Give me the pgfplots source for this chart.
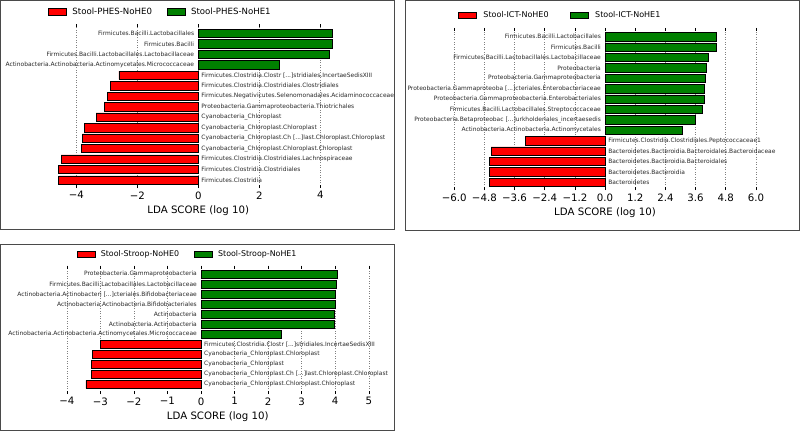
\documentclass[border=0pt]{standalone}
\usepackage{fontspec}
\setmainfont{DejaVu Sans}
\usepackage{pgfplots}
\pgfplotsset{compat=1.18}
\usepackage{pgfplotstable}

\definecolor{barred}{HTML}{FF0000}
\definecolor{bargreen}{HTML}{008000}
\definecolor{framegray}{HTML}{4A4A4A}

% ---------- PHES ----------
\pgfplotstableread[col sep=comma]{
idx,lda,label
14,4.39,Firmicutes.Bacilli.Lactobacillales
13,4.39,Firmicutes.Bacilli
12,4.29,Firmicutes.Bacilli.Lactobacillales.Lactobacillaceae
11,2.64,Actinobacteria.Actinobacteria.Actinomycetales.Micrococcaceae
}\phesG
\pgfplotstableread[col sep=comma]{
idx,lda,label
10,-2.60,Firmicutes.Clostridia.Clostr [...]stridiales.IncertaeSedisXIII
9,-2.89,Firmicutes.Clostridia.Clostridiales.Clostridiales
8,-2.97,Firmicutes.Negativicutes.Selenomonadales.Acidaminococcaceae
7,-3.09,Proteobacteria.Gammaproteobacteria.Thiotrichales
6,-3.35,Cyanobacteria\_Chloroplast
5,-3.74,Cyanobacteria\_Chloroplast.Chloroplast
4,-3.80,Cyanobacteria\_Chloroplast.Ch [...]last.Chloroplast.Chloroplast
3,-3.84,Cyanobacteria\_Chloroplast.Chloroplast.Chloroplast
2,-4.50,Firmicutes.Clostridia.Clostridiales.Lachnospiraceae
1,-4.58,Firmicutes.Clostridia.Clostridiales
0,-4.58,Firmicutes.Clostridia
}\phesR

% ---------- ICT ----------
\pgfplotstableread[col sep=comma]{
idx,lda,label
14,4.43,Firmicutes.Bacilli.Lactobacillales
13,4.41,Firmicutes.Bacilli
12,4.12,Firmicutes.Bacilli.Lactobacillales.Lactobacillaceae
11,4.04,Proteobacteria
10,3.99,Proteobacteria.Gammaproteobacteria
9,3.96,Proteobacteria.Gammaproteoba [...]cteriales.Enterobacteriaceae
8,3.94,Proteobacteria.Gammaproteobacteria.Enterobacteriales
7,3.85,Firmicutes.Bacilli.Lactobacillales.Streptococcaceae
6,3.57,Proteobacteria.Betaproteobac [...]urkholderiales\_incertaesedis
5,3.09,Actinobacteria.Actinobacteria.Actinomycetales
}\ictG
\pgfplotstableread[col sep=comma]{
idx,lda,label
4,-3.17,Firmicutes.Clostridia.Clostridiales.Peptococcaceae1
3,-4.53,Bacteroidetes.Bacteroidia.Bacteroidales.Bacteroidaceae
2,-4.59,Bacteroidetes.Bacteroidia.Bacteroidales
1,-4.59,Bacteroidetes.Bacteroidia
0,-4.59,Bacteroidetes
}\ictR

% ---------- Stroop ----------
\pgfplotstableread[col sep=comma]{
idx,lda,label
11,4.05,Proteobacteria.Gammaproteobacteria
10,4.04,Firmicutes.Bacilli.Lactobacillales.Lactobacillaceae
9,4.01,Actinobacteria.Actinobacteri [...]cteriales.Bifidobacteriaceae
8,4.00,Actinobacteria.Actinobacteria.Bifidobacteriales
7,3.97,Actinobacteria
6,3.97,Actinobacteria.Actinobacteria
5,2.38,Actinobacteria.Actinobacteria.Actinomycetales.Micrococcaceae
}\stroopG
\pgfplotstableread[col sep=comma]{
idx,lda,label
4,-3.01,Firmicutes.Clostridia.Clostr [...]stridiales.IncertaeSedisXIII
3,-3.23,Cyanobacteria\_Chloroplast.Chloroplast
2,-3.26,Cyanobacteria\_Chloroplast
1,-3.27,Cyanobacteria\_Chloroplast.Ch [...]last.Chloroplast.Chloroplast
0,-3.43,Cyanobacteria\_Chloroplast.Chloroplast.Chloroplast
}\stroopR

\pgfplotsset{
  lefse/.style={
    scale only axis,
    axis line style={draw=none},
    every outer x axis line/.style={draw=none},
    every outer y axis line/.style={draw=none},
    ytick=\empty,
    xtick pos=both,
    tick align=inside,
    major tick length=3pt,
    tick style={black, line width=0.5pt},
    xmajorgrids,
    major grid style={gray, line width=0.5pt, dash pattern=on 0.7pt off 1.8pt},
    tick label style={font=\fontsize{10.2}{12}\selectfont},
    xlabel={LDA SCORE (log 10)},
    xlabel style={font=\fontsize{10.2}{12}\selectfont},
    legend columns=2,
    legend cell align=left,
    legend image code/.code={\draw[##1,draw=black,line width=0.6pt] (0pt,-3.2pt) rectangle (18pt,3.2pt);},
    legend style={draw=none, fill=none, anchor=center,
      /tikz/every odd column/.append style={column sep=3.5pt},
      /tikz/every even column/.append style={column sep=13pt}},
  },
  gbar/.style={xbar, bar shift=0pt, bar width=0.8, fill=bargreen, draw=black, line width=0.6pt},
  rbar/.style={xbar, bar shift=0pt, bar width=0.8, fill=barred, draw=black, line width=0.6pt},
  glab/.style={draw=none, mark=none, forget plot, nodes near coords, point meta=explicit symbolic,
    nodes near coords style={anchor=east, font=\fontsize{5.95}{7}\selectfont, inner sep=1pt, xshift=-3pt, text=black!85}},
  rlab/.style={draw=none, mark=none, forget plot, nodes near coords, point meta=explicit symbolic,
    nodes near coords style={anchor=west, font=\fontsize{5.95}{7}\selectfont, inner sep=1pt, xshift=2pt, text=black!85}},
}

\begin{document}
\begin{tikzpicture}[x=1pt,y=1pt]
\useasboundingbox (0,0) rectangle (800,432);

% ===== Panel 1: PHES =====
\begin{scope}
\clip (0,432-229) rectangle (394.5,432);
\begin{axis}[lefse,
  at={(51.9pt,244pt)}, anchor=south west,
  width=292.8pt, height=163.7pt,
  xmin=-4.8, xmax=4.8, ymin=-0.76, ymax=14.86,
  xtick={-4,-2,0,2,4},
  xticklabels={−4,−2,0,2,4},
  legend style={at={(0.371,1.076)}, font=\fontsize{8.6}{10}\selectfont},
]
\addplot[rbar] table[x=lda, y=idx] \phesR;
\addlegendentry{Stool-PHES-NoHE0}
\addplot[gbar] table[x=lda, y=idx] \phesG;
\addlegendentry{Stool-PHES-NoHE1}
\addplot[glab] table[x expr=0, y=idx, meta=label] \phesG;
\addplot[rlab] table[x expr=0, y=idx, meta=label] \phesR;
\end{axis}
\end{scope}
\draw[framegray, line width=1pt] (0.5,432-229) rectangle (394.5,431.5);

% ===== Panel 2: ICT =====
\begin{axis}[lefse,
  at={(454.2pt,242pt)}, anchor=south west,
  width=301.7pt, height=162pt,
  xmin=-6, xmax=6, ymin=-0.74, ymax=14.84,
  xtick={-6,-4.8,-3.6,-2.4,-1.2,0,1.2,2.4,3.6,4.8,6},
  xticklabels={−6.0,−4.8,−3.6,−2.4,−1.2,0.0,1.2,2.4,3.6,4.8,6.0},
  legend style={at={(0.351,1.080)}, font=\fontsize{8.0}{9}\selectfont,
    /tikz/every odd column/.append style={column sep=5pt},
    /tikz/every even column/.append style={column sep=19pt}},
]
\addplot[rbar] table[x=lda, y=idx] \ictR;
\addlegendentry{Stool-ICT-NoHE0}
\addplot[gbar] table[x=lda, y=idx] \ictG;
\addlegendentry{Stool-ICT-NoHE1}
\addplot[glab] table[x expr=0, y=idx, meta=label] \ictG;
\addplot[rlab] table[x expr=0, y=idx, meta=label] \ictR;
\end{axis}
\draw[framegray, line width=1pt] (405.5,432-230.7) rectangle (799.5,431.5);

% ===== Panel 3: Stroop =====
\begin{axis}[lefse,
  at={(66.8pt,38pt)}, anchor=south west,
  width=302pt, height=128.3pt,
  xmin=-4, xmax=5, ymin=-0.97, ymax=11.86,
  xtick={-4,-3,-2,-1,0,1,2,3,4,5},
  xticklabels={−4,−3,−2,−1,0,1,2,3,4,5},
  legend style={at={(0.4,1.09)}, font=\fontsize{7.9}{9}\selectfont},
]
\addplot[rbar] table[x=lda, y=idx] \stroopR;
\addlegendentry{Stool-Stroop-NoHE0}
\addplot[gbar] table[x=lda, y=idx] \stroopG;
\addlegendentry{Stool-Stroop-NoHE1}
\addplot[glab] table[x expr=0, y=idx, meta=label] \stroopG;
\addplot[rlab] table[x expr=0, y=idx, meta=label] \stroopR;
\end{axis}
\draw[framegray, line width=1pt] (0.5,1.5) rectangle (394.5,432-244.5);
\end{tikzpicture}
\end{document}
